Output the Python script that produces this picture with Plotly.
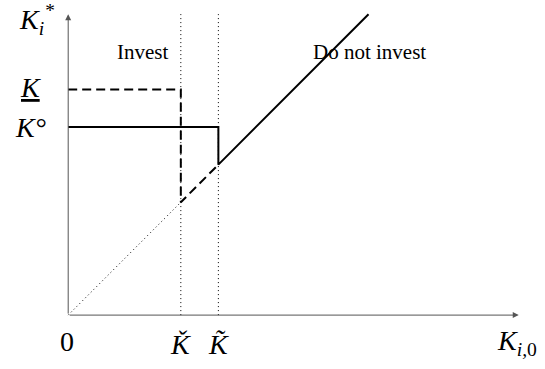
import plotly.graph_objects as go

# threshold levels (model units)
k_check = 3.0      # Ǩ
k_tilde = 4.0      # K̃
k_circ = 5.0       # K°
k_under = 6.0      # K (underlined)
x_max = 12.0       # end of horizontal axis
y_max = 8.0        # end of vertical axis
diag_end = 8.0

# solid policy: flat at K° until K̃, then follows 45-degree line
solid_x = [0, k_tilde, k_tilde, diag_end]
solid_y = [k_circ, k_circ, k_tilde, diag_end]

# dashed policy: flat at K until Ǩ, then drops to the 45-degree line
dashed_x = [0, k_check, k_check, k_tilde]
dashed_y = [k_under, k_under, k_check, k_tilde]

# dotted 45-degree line below Ǩ
diag_x = [0, k_check]
diag_y = [0, k_check]

FONT = "Liberation Serif"

fig = go.Figure()

for xv in [k_check, k_tilde]:
    fig.add_trace(go.Scatter(x=[xv, xv], y=[0, y_max], mode="lines",
                             line=dict(color="black", width=1, dash="1px,3px")))
fig.add_trace(go.Scatter(x=diag_x, y=diag_y, mode="lines",
                         line=dict(color="black", width=1, dash="1px,3px")))
fig.add_trace(go.Scatter(x=dashed_x, y=dashed_y, mode="lines",
                         line=dict(color="black", width=2, dash="9px,5px")))
fig.add_trace(go.Scatter(x=solid_x, y=solid_y, mode="lines",
                         line=dict(color="black", width=2)))

# axes with arrows
for (hx, hy) in [(x_max, 0), (0, y_max)]:
    fig.add_annotation(x=hx, y=hy, ax=0, ay=0, xref="x", yref="y",
                       axref="x", ayref="y", text="", showarrow=True,
                       arrowhead=2, arrowsize=1.2, arrowwidth=1, arrowcolor="#555")

# (x, y, text, size, style)
labels = [
    (-0.04, -0.69, "0", 28, "normal"),
    (k_check, -0.77, "Ǩ", 28, "italic"),
    (k_tilde, -0.77, "K\u0303", 28, "italic"),
    (11.95, -0.72, "K<sub>i,<span style='font-style:normal'>0</span></sub>", 28, "italic"),
    (-1.0, k_circ, "K°", 28, "italic"),
    (-1.0, k_under + 0.04, "<span style='text-decoration:underline'>K</span>", 28, "italic"),
    (-0.85, y_max - 0.14, "K<sub>i</sub><sup>*</sup>", 28, "italic"),
    (1.98, 7.0, "Invest", 21, "normal"),
    (8.02, 7.0, "Do not invest", 21, "normal"),
]
for (lx, ly, txt, sz, st) in labels:
    fig.add_annotation(x=lx, y=ly, xref="x", yref="y", text=txt, showarrow=False,
                       font=dict(family=FONT, size=sz, color="black", style=st))

fig.update_xaxes(range=[-1.55, 12.7], visible=False)
fig.update_yaxes(range=[-1.3, 8.35], visible=False)
fig.update_layout(width=545, height=369, showlegend=False,
                  plot_bgcolor="white", paper_bgcolor="white",
                  margin=dict(l=10, r=0, t=1, b=5))

fig.write_html("out.html", config={"displayModeBar": False},
               post_script="document.body.style.margin='0';")
